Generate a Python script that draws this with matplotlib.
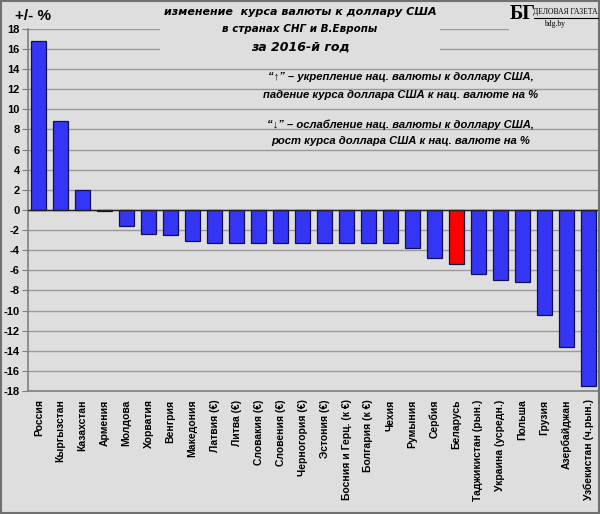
import numpy as np
import matplotlib.pyplot as plt

# -------------------------
# DATA
# -------------------------
countries = [
    "Россия", "Кыргызстан", "Казахстан", "Армения", "Молдова", "Хорватия",
    "Венгрия", "Македония", "Латвия (€)", "Литва (€)", "Словакия (€)",
    "Словения (€)", "Черногория (€)", "Эстония (€)", "Босния и Герц. (к €)",
    "Болгария (к €)", "Чехия", "Румыния", "Сербия", "Беларусь",
    "Таджикистан (рын.)", "Украина (усредн.)", "Польша", "Грузия",
    "Азербайджан", "Узбекистан (ч.рын.)"
]
change = [
    16.8, 8.8, 2.0, -0.1, -1.6, -2.4,
    -2.5, -3.1, -3.3, -3.3, -3.3,
    -3.3, -3.3, -3.3, -3.3,
    -3.3, -3.25, -3.8, -4.8, -5.4,
    -6.4, -7.0, -7.2, -10.4,
    -13.6, -17.5
]
highlight = "Беларусь"
yticks = list(range(-18, 19, 2))

bg = "#dedede"
blue = "#3535f5"
red = "#ff0000"

plt.rcParams['font.family'] = ['Liberation Sans', 'DejaVu Sans']

fig = plt.figure(figsize=(6.0, 5.14), dpi=100, facecolor=bg)
ax = fig.add_axes([0.047, 0.239, 0.95, 0.705], facecolor=bg)

x = np.arange(len(countries))
colors = [red if c == highlight else blue for c in countries]
ax.bar(x, change, width=0.68, color=colors, edgecolor="#101050", linewidth=0.9, zorder=3)

ax.set_ylim(-18, 18)
ax.set_xlim(-0.48, len(countries) - 0.55)
ax.set_yticks(yticks)
ax.set_yticklabels([str(v) for v in yticks], fontsize=8, fontweight="bold")
ax.yaxis.grid(True, color="#9a9a9a", linewidth=1.0, zorder=0)
ax.axhline(0, color="#202020", linewidth=1.0, zorder=4)

ax.set_xticks(x)
ax.set_xticklabels(countries, rotation=90, fontsize=7.5, fontweight="bold")
ax.tick_params(axis="x", length=0, pad=6)
ax.tick_params(axis="y", length=4, color="#808080", pad=2)

for side in ["top", "right"]:
    ax.spines[side].set_visible(False)
ax.spines["left"].set_color("#808080")
ax.spines["bottom"].set_color("#808080")
ax.spines["left"].set_linewidth(1.2)
ax.spines["bottom"].set_linewidth(1.2)

# background patches behind title and logo (hide gridlines there)
fig.patches.append(plt.Rectangle((0.267, 0.891), 0.466, 0.109, transform=fig.transFigure,
                                 facecolor=bg, edgecolor="none", zorder=1))
fig.patches.append(plt.Rectangle((0.848, 0.92), 0.15, 0.08, transform=fig.transFigure,
                                 facecolor=bg, edgecolor="none", zorder=1))

# unit label
fig.text(0.025, 0.968, "+/- %", fontsize=11, fontweight="bold", ha="left", va="center")

# title
tfont = dict(fontweight="bold", style="italic", family="DejaVu Sans", ha="center", va="center")
fig.text(0.5, 0.976, "изменение  курса валюты к доллару США", fontsize=8, **tfont)
fig.text(0.5, 0.943, "в странах СНГ и В.Европы", fontsize=7.5, **tfont)
fig.text(0.5, 0.908, "за 2016-й год", fontsize=9, **tfont)

# notes
nfont = dict(fontsize=8.1, fontweight="bold", style="italic", ha="center", va="center")
fig.text(0.668, 0.850, "“↑” – укрепление нац. валюты к доллару США,", **nfont)
fig.text(0.668, 0.815, "падение курса доллара США к нац. валюте на %", **nfont)
fig.text(0.668, 0.757, "“↓” – ослабление нац. валюты к доллару США,", **nfont)
fig.text(0.668, 0.725, "рост курса доллара США к нац. валюте на %", **nfont)

# logo
fig.text(0.849, 0.973, "БГ", fontsize=14.5, fontweight="bold", family="Liberation Serif",
         ha="left", va="center")
fig.text(0.996, 0.976, "ДЕЛОВАЯ ГАЗЕТА", fontsize=5.5, family="Liberation Serif",
         ha="right", va="center")
fig.lines.append(plt.Line2D([0.89, 0.996], [0.965, 0.965], transform=fig.transFigure,
                            color="black", linewidth=0.8))
fig.text(0.925, 0.953, "bdg.by", fontsize=5.5, family="Liberation Serif", ha="center", va="center")

# outer border
fig.patches.append(plt.Rectangle((0.002, 0.002), 0.996, 0.996, transform=fig.transFigure,
                                 fill=False, edgecolor="#707070", linewidth=1.5))

fig.savefig("out.png", dpi=100, facecolor=bg)
